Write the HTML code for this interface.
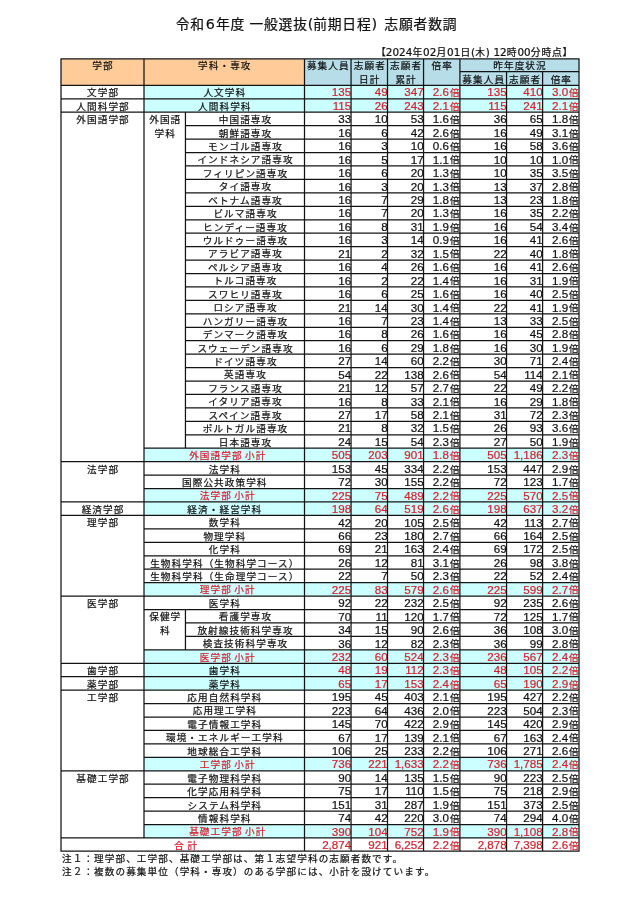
<!DOCTYPE html>
<html lang="ja"><head><meta charset="utf-8"><title>令和6年度 一般選抜(前期日程) 志願者数調</title>
<style>
html,body{margin:0;padding:0;background:#fff;}
body{width:640px;height:905px;position:relative;overflow:hidden;font-family:"Liberation Sans","Noto Sans CJK JP",sans-serif;color:#111;-webkit-text-stroke:0.22px currentColor;}
#pg{position:absolute;left:0;top:0;width:640px;height:905px;will-change:transform;}
.g{position:absolute;}
.c{position:absolute;box-sizing:border-box;white-space:nowrap;overflow:visible;font-size:9.6px;letter-spacing:1.1px;line-height:13.44px;height:13.44px;}
.t{text-align:center;padding-left:1.1px;}
.sp{padding-left:7px;}
.sp u{text-decoration:none;letter-spacing:-0.3px;}
.n{text-align:right;letter-spacing:0;}
.n span{font-size:11.6px;line-height:0;}
.r{color:#D81E2C;}
.ln{position:absolute;left:0;top:0;pointer-events:none;}
.title{position:absolute;left:175.7px;top:14px;font-size:13.8px;letter-spacing:0.8px;line-height:22px;white-space:nowrap;}
.title b{font-weight:normal;display:inline-block;text-align:center;font-family:'DejaVu Sans',sans-serif;font-size:14.3px;letter-spacing:0;line-height:0;}
.ts{position:absolute;left:376px;top:46.2px;font-size:9.8px;letter-spacing:0.78px;line-height:13px;white-space:nowrap;}
.ts b{font-weight:normal;font-family:'DejaVu Sans',sans-serif;font-size:10.4px;letter-spacing:0.1px;line-height:0;}
.ts b:first-of-type{margin-left:-0.9px;}
.note{position:absolute;left:62px;font-size:9.6px;letter-spacing:1.1px;line-height:13.4px;white-space:nowrap;}
</style></head><body><div id="pg">
<div class="title">令和<b style="width:11px">6</b>年度<b style="width:4.3px"> </b>一般選抜<b style="width:5.4px">(</b>前期日程<b style="width:3.6px">)</b><b style="width:9.2px"> </b>志願者数調</div>
<div class="ts">【<b>2024</b>年<b>02</b>月<b>01</b>日<b>(</b>木<b>) 12</b>時<b>00</b>分時点】</div>
<div class="g" style="left:61px;top:58.8px;width:243.5px;height:26.55px;background:#FFCC99"></div>
<div class="g" style="left:304.5px;top:58.8px;width:274.5px;height:26.55px;background:#B7DEE8"></div>
<div class="c t" style="left:61px;top:59.03px;width:83px">学部</div>
<div class="c t" style="left:144px;top:59.03px;width:160.5px">学科・専攻</div>
<div class="c t" style="left:304.5px;top:59.03px;width:46.55px">募集人員</div>
<div class="c t" style="left:351.05px;top:59.03px;width:36.45px">志願者</div>
<div class="c t" style="left:351.05px;top:73.03px;width:36.45px">日計</div>
<div class="c t" style="left:387.5px;top:59.03px;width:36.05px">志願者</div>
<div class="c t" style="left:387.5px;top:73.03px;width:36.05px">累計</div>
<div class="c t" style="left:423.55px;top:59.03px;width:36.35px">倍率</div>
<div class="c t" style="left:459.9px;top:59.03px;width:119.1px">昨年度状況</div>
<div class="c t" style="left:459.9px;top:73.03px;width:46.65px">募集人員</div>
<div class="c t" style="left:506.55px;top:73.03px;width:36.05px">志願者</div>
<div class="c t" style="left:542.6px;top:73.03px;width:36.4px">倍率</div>
<div class="c t" style="left:61px;top:86.03px;width:83px">文学部</div>
<div class="c t" style="left:61px;top:100.03px;width:83px">人間科学部</div>
<div class="c t" style="left:61px;top:113.03px;width:83px">外国語学部</div>
<div class="c t" style="left:61px;top:463.03px;width:83px">法学部</div>
<div class="c t" style="left:61px;top:503.03px;width:83px">経済学部</div>
<div class="c t" style="left:61px;top:516.03px;width:83px">理学部</div>
<div class="c t" style="left:61px;top:597.03px;width:83px">医学部</div>
<div class="c t" style="left:61px;top:664.03px;width:83px">歯学部</div>
<div class="c t" style="left:61px;top:678.03px;width:83px">薬学部</div>
<div class="c t" style="left:61px;top:691.03px;width:83px">工学部</div>
<div class="c t" style="left:61px;top:772.03px;width:83px">基礎工学部</div>
<div class="c t" style="left:144px;top:113.03px;width:41.45px">外国語</div>
<div class="c t" style="left:144px;top:127.03px;width:41.45px">学科</div>
<div class="c t" style="left:144px;top:610.03px;width:41.45px">保健学</div>
<div class="c t" style="left:144px;top:624.03px;width:41.45px">科</div>
<div class="g" style="left:144px;top:85.35px;width:435px;height:13.44px;background:#CCFFFF"></div>
<div class="c t" style="left:144px;top:86.03px;width:160.5px">人文学科</div>
<div class="c n r" style="left:304.5px;top:86.03px;width:46.65px"><span>135</span></div>
<div class="c n r" style="left:351.05px;top:86.03px;width:36.55px"><span>49</span></div>
<div class="c n r" style="left:387.5px;top:86.03px;width:36.15px"><span>347</span></div>
<div class="c n r" style="left:423.55px;top:86.03px;width:25.45px"><span>2.6</span></div>
<div class="c t r" style="left:448.8px;top:86.03px;width:10.7px">倍</div>
<div class="c n r" style="left:459.9px;top:86.03px;width:46.75px"><span>135</span></div>
<div class="c n r" style="left:506.55px;top:86.03px;width:36.15px"><span>410</span></div>
<div class="c n r" style="left:542.6px;top:86.03px;width:25.5px"><span>3.0</span></div>
<div class="c t r" style="left:567.9px;top:86.03px;width:10.7px">倍</div>
<div class="g" style="left:144px;top:98.79px;width:435px;height:13.44px;background:#CCFFFF"></div>
<div class="c t" style="left:144px;top:100.03px;width:160.5px">人間科学科</div>
<div class="c n r" style="left:304.5px;top:100.03px;width:46.65px"><span>115</span></div>
<div class="c n r" style="left:351.05px;top:100.03px;width:36.55px"><span>26</span></div>
<div class="c n r" style="left:387.5px;top:100.03px;width:36.15px"><span>243</span></div>
<div class="c n r" style="left:423.55px;top:100.03px;width:25.45px"><span>2.1</span></div>
<div class="c t r" style="left:448.8px;top:100.03px;width:10.7px">倍</div>
<div class="c n r" style="left:459.9px;top:100.03px;width:46.75px"><span>115</span></div>
<div class="c n r" style="left:506.55px;top:100.03px;width:36.15px"><span>241</span></div>
<div class="c n r" style="left:542.6px;top:100.03px;width:25.5px"><span>2.1</span></div>
<div class="c t r" style="left:567.9px;top:100.03px;width:10.7px">倍</div>
<div class="c t" style="left:185.45px;top:113.03px;width:119.05px">中国語専攻</div>
<div class="c n" style="left:304.5px;top:113.03px;width:46.65px"><span>33</span></div>
<div class="c n" style="left:351.05px;top:113.03px;width:36.55px"><span>10</span></div>
<div class="c n" style="left:387.5px;top:113.03px;width:36.15px"><span>53</span></div>
<div class="c n" style="left:423.55px;top:113.03px;width:25.45px"><span>1.6</span></div>
<div class="c t" style="left:448.8px;top:113.03px;width:10.7px">倍</div>
<div class="c n" style="left:459.9px;top:113.03px;width:46.75px"><span>36</span></div>
<div class="c n" style="left:506.55px;top:113.03px;width:36.15px"><span>65</span></div>
<div class="c n" style="left:542.6px;top:113.03px;width:25.5px"><span>1.8</span></div>
<div class="c t" style="left:567.9px;top:113.03px;width:10.7px">倍</div>
<div class="c t" style="left:185.45px;top:127.03px;width:119.05px">朝鮮語専攻</div>
<div class="c n" style="left:304.5px;top:127.03px;width:46.65px"><span>16</span></div>
<div class="c n" style="left:351.05px;top:127.03px;width:36.55px"><span>6</span></div>
<div class="c n" style="left:387.5px;top:127.03px;width:36.15px"><span>42</span></div>
<div class="c n" style="left:423.55px;top:127.03px;width:25.45px"><span>2.6</span></div>
<div class="c t" style="left:448.8px;top:127.03px;width:10.7px">倍</div>
<div class="c n" style="left:459.9px;top:127.03px;width:46.75px"><span>16</span></div>
<div class="c n" style="left:506.55px;top:127.03px;width:36.15px"><span>49</span></div>
<div class="c n" style="left:542.6px;top:127.03px;width:25.5px"><span>3.1</span></div>
<div class="c t" style="left:567.9px;top:127.03px;width:10.7px">倍</div>
<div class="c t" style="left:185.45px;top:140.03px;width:119.05px">モンゴル語専攻</div>
<div class="c n" style="left:304.5px;top:140.03px;width:46.65px"><span>16</span></div>
<div class="c n" style="left:351.05px;top:140.03px;width:36.55px"><span>3</span></div>
<div class="c n" style="left:387.5px;top:140.03px;width:36.15px"><span>10</span></div>
<div class="c n" style="left:423.55px;top:140.03px;width:25.45px"><span>0.6</span></div>
<div class="c t" style="left:448.8px;top:140.03px;width:10.7px">倍</div>
<div class="c n" style="left:459.9px;top:140.03px;width:46.75px"><span>16</span></div>
<div class="c n" style="left:506.55px;top:140.03px;width:36.15px"><span>58</span></div>
<div class="c n" style="left:542.6px;top:140.03px;width:25.5px"><span>3.6</span></div>
<div class="c t" style="left:567.9px;top:140.03px;width:10.7px">倍</div>
<div class="c t" style="left:185.45px;top:153.03px;width:119.05px">インドネシア語専攻</div>
<div class="c n" style="left:304.5px;top:154.03px;width:46.65px"><span>16</span></div>
<div class="c n" style="left:351.05px;top:154.03px;width:36.55px"><span>5</span></div>
<div class="c n" style="left:387.5px;top:154.03px;width:36.15px"><span>17</span></div>
<div class="c n" style="left:423.55px;top:154.03px;width:25.45px"><span>1.1</span></div>
<div class="c t" style="left:448.8px;top:153.03px;width:10.7px">倍</div>
<div class="c n" style="left:459.9px;top:154.03px;width:46.75px"><span>10</span></div>
<div class="c n" style="left:506.55px;top:154.03px;width:36.15px"><span>10</span></div>
<div class="c n" style="left:542.6px;top:154.03px;width:25.5px"><span>1.0</span></div>
<div class="c t" style="left:567.9px;top:153.03px;width:10.7px">倍</div>
<div class="c t" style="left:185.45px;top:167.03px;width:119.05px">フィリピン語専攻</div>
<div class="c n" style="left:304.5px;top:167.03px;width:46.65px"><span>16</span></div>
<div class="c n" style="left:351.05px;top:167.03px;width:36.55px"><span>6</span></div>
<div class="c n" style="left:387.5px;top:167.03px;width:36.15px"><span>20</span></div>
<div class="c n" style="left:423.55px;top:167.03px;width:25.45px"><span>1.3</span></div>
<div class="c t" style="left:448.8px;top:167.03px;width:10.7px">倍</div>
<div class="c n" style="left:459.9px;top:167.03px;width:46.75px"><span>10</span></div>
<div class="c n" style="left:506.55px;top:167.03px;width:36.15px"><span>35</span></div>
<div class="c n" style="left:542.6px;top:167.03px;width:25.5px"><span>3.5</span></div>
<div class="c t" style="left:567.9px;top:167.03px;width:10.7px">倍</div>
<div class="c t" style="left:185.45px;top:180.03px;width:119.05px">タイ語専攻</div>
<div class="c n" style="left:304.5px;top:181.03px;width:46.65px"><span>16</span></div>
<div class="c n" style="left:351.05px;top:181.03px;width:36.55px"><span>3</span></div>
<div class="c n" style="left:387.5px;top:181.03px;width:36.15px"><span>20</span></div>
<div class="c n" style="left:423.55px;top:181.03px;width:25.45px"><span>1.3</span></div>
<div class="c t" style="left:448.8px;top:180.03px;width:10.7px">倍</div>
<div class="c n" style="left:459.9px;top:181.03px;width:46.75px"><span>13</span></div>
<div class="c n" style="left:506.55px;top:181.03px;width:36.15px"><span>37</span></div>
<div class="c n" style="left:542.6px;top:181.03px;width:25.5px"><span>2.8</span></div>
<div class="c t" style="left:567.9px;top:180.03px;width:10.7px">倍</div>
<div class="c t" style="left:185.45px;top:194.03px;width:119.05px">ベトナム語専攻</div>
<div class="c n" style="left:304.5px;top:194.03px;width:46.65px"><span>16</span></div>
<div class="c n" style="left:351.05px;top:194.03px;width:36.55px"><span>7</span></div>
<div class="c n" style="left:387.5px;top:194.03px;width:36.15px"><span>29</span></div>
<div class="c n" style="left:423.55px;top:194.03px;width:25.45px"><span>1.8</span></div>
<div class="c t" style="left:448.8px;top:194.03px;width:10.7px">倍</div>
<div class="c n" style="left:459.9px;top:194.03px;width:46.75px"><span>13</span></div>
<div class="c n" style="left:506.55px;top:194.03px;width:36.15px"><span>23</span></div>
<div class="c n" style="left:542.6px;top:194.03px;width:25.5px"><span>1.8</span></div>
<div class="c t" style="left:567.9px;top:194.03px;width:10.7px">倍</div>
<div class="c t" style="left:185.45px;top:207.03px;width:119.05px">ビルマ語専攻</div>
<div class="c n" style="left:304.5px;top:207.03px;width:46.65px"><span>16</span></div>
<div class="c n" style="left:351.05px;top:207.03px;width:36.55px"><span>7</span></div>
<div class="c n" style="left:387.5px;top:207.03px;width:36.15px"><span>20</span></div>
<div class="c n" style="left:423.55px;top:207.03px;width:25.45px"><span>1.3</span></div>
<div class="c t" style="left:448.8px;top:207.03px;width:10.7px">倍</div>
<div class="c n" style="left:459.9px;top:207.03px;width:46.75px"><span>16</span></div>
<div class="c n" style="left:506.55px;top:207.03px;width:36.15px"><span>35</span></div>
<div class="c n" style="left:542.6px;top:207.03px;width:25.5px"><span>2.2</span></div>
<div class="c t" style="left:567.9px;top:207.03px;width:10.7px">倍</div>
<div class="c t" style="left:185.45px;top:221.03px;width:119.05px">ヒンディー語専攻</div>
<div class="c n" style="left:304.5px;top:221.03px;width:46.65px"><span>16</span></div>
<div class="c n" style="left:351.05px;top:221.03px;width:36.55px"><span>8</span></div>
<div class="c n" style="left:387.5px;top:221.03px;width:36.15px"><span>31</span></div>
<div class="c n" style="left:423.55px;top:221.03px;width:25.45px"><span>1.9</span></div>
<div class="c t" style="left:448.8px;top:221.03px;width:10.7px">倍</div>
<div class="c n" style="left:459.9px;top:221.03px;width:46.75px"><span>16</span></div>
<div class="c n" style="left:506.55px;top:221.03px;width:36.15px"><span>54</span></div>
<div class="c n" style="left:542.6px;top:221.03px;width:25.5px"><span>3.4</span></div>
<div class="c t" style="left:567.9px;top:221.03px;width:10.7px">倍</div>
<div class="c t" style="left:185.45px;top:234.03px;width:119.05px">ウルドゥー語専攻</div>
<div class="c n" style="left:304.5px;top:234.03px;width:46.65px"><span>16</span></div>
<div class="c n" style="left:351.05px;top:234.03px;width:36.55px"><span>3</span></div>
<div class="c n" style="left:387.5px;top:234.03px;width:36.15px"><span>14</span></div>
<div class="c n" style="left:423.55px;top:234.03px;width:25.45px"><span>0.9</span></div>
<div class="c t" style="left:448.8px;top:234.03px;width:10.7px">倍</div>
<div class="c n" style="left:459.9px;top:234.03px;width:46.75px"><span>16</span></div>
<div class="c n" style="left:506.55px;top:234.03px;width:36.15px"><span>41</span></div>
<div class="c n" style="left:542.6px;top:234.03px;width:25.5px"><span>2.6</span></div>
<div class="c t" style="left:567.9px;top:234.03px;width:10.7px">倍</div>
<div class="c t" style="left:185.45px;top:247.03px;width:119.05px">アラビア語専攻</div>
<div class="c n" style="left:304.5px;top:248.03px;width:46.65px"><span>21</span></div>
<div class="c n" style="left:351.05px;top:248.03px;width:36.55px"><span>2</span></div>
<div class="c n" style="left:387.5px;top:248.03px;width:36.15px"><span>32</span></div>
<div class="c n" style="left:423.55px;top:248.03px;width:25.45px"><span>1.5</span></div>
<div class="c t" style="left:448.8px;top:247.03px;width:10.7px">倍</div>
<div class="c n" style="left:459.9px;top:248.03px;width:46.75px"><span>22</span></div>
<div class="c n" style="left:506.55px;top:248.03px;width:36.15px"><span>40</span></div>
<div class="c n" style="left:542.6px;top:248.03px;width:25.5px"><span>1.8</span></div>
<div class="c t" style="left:567.9px;top:247.03px;width:10.7px">倍</div>
<div class="c t" style="left:185.45px;top:261.03px;width:119.05px">ペルシア語専攻</div>
<div class="c n" style="left:304.5px;top:261.03px;width:46.65px"><span>16</span></div>
<div class="c n" style="left:351.05px;top:261.03px;width:36.55px"><span>4</span></div>
<div class="c n" style="left:387.5px;top:261.03px;width:36.15px"><span>26</span></div>
<div class="c n" style="left:423.55px;top:261.03px;width:25.45px"><span>1.6</span></div>
<div class="c t" style="left:448.8px;top:261.03px;width:10.7px">倍</div>
<div class="c n" style="left:459.9px;top:261.03px;width:46.75px"><span>16</span></div>
<div class="c n" style="left:506.55px;top:261.03px;width:36.15px"><span>41</span></div>
<div class="c n" style="left:542.6px;top:261.03px;width:25.5px"><span>2.6</span></div>
<div class="c t" style="left:567.9px;top:261.03px;width:10.7px">倍</div>
<div class="c t" style="left:185.45px;top:274.03px;width:119.05px">トルコ語専攻</div>
<div class="c n" style="left:304.5px;top:275.03px;width:46.65px"><span>16</span></div>
<div class="c n" style="left:351.05px;top:275.03px;width:36.55px"><span>2</span></div>
<div class="c n" style="left:387.5px;top:275.03px;width:36.15px"><span>22</span></div>
<div class="c n" style="left:423.55px;top:275.03px;width:25.45px"><span>1.4</span></div>
<div class="c t" style="left:448.8px;top:274.03px;width:10.7px">倍</div>
<div class="c n" style="left:459.9px;top:275.03px;width:46.75px"><span>16</span></div>
<div class="c n" style="left:506.55px;top:275.03px;width:36.15px"><span>31</span></div>
<div class="c n" style="left:542.6px;top:275.03px;width:25.5px"><span>1.9</span></div>
<div class="c t" style="left:567.9px;top:274.03px;width:10.7px">倍</div>
<div class="c t" style="left:185.45px;top:288.03px;width:119.05px">スワヒリ語専攻</div>
<div class="c n" style="left:304.5px;top:288.03px;width:46.65px"><span>16</span></div>
<div class="c n" style="left:351.05px;top:288.03px;width:36.55px"><span>6</span></div>
<div class="c n" style="left:387.5px;top:288.03px;width:36.15px"><span>25</span></div>
<div class="c n" style="left:423.55px;top:288.03px;width:25.45px"><span>1.6</span></div>
<div class="c t" style="left:448.8px;top:288.03px;width:10.7px">倍</div>
<div class="c n" style="left:459.9px;top:288.03px;width:46.75px"><span>16</span></div>
<div class="c n" style="left:506.55px;top:288.03px;width:36.15px"><span>40</span></div>
<div class="c n" style="left:542.6px;top:288.03px;width:25.5px"><span>2.5</span></div>
<div class="c t" style="left:567.9px;top:288.03px;width:10.7px">倍</div>
<div class="c t" style="left:185.45px;top:301.03px;width:119.05px">ロシア語専攻</div>
<div class="c n" style="left:304.5px;top:302.03px;width:46.65px"><span>21</span></div>
<div class="c n" style="left:351.05px;top:302.03px;width:36.55px"><span>14</span></div>
<div class="c n" style="left:387.5px;top:302.03px;width:36.15px"><span>30</span></div>
<div class="c n" style="left:423.55px;top:302.03px;width:25.45px"><span>1.4</span></div>
<div class="c t" style="left:448.8px;top:301.03px;width:10.7px">倍</div>
<div class="c n" style="left:459.9px;top:302.03px;width:46.75px"><span>22</span></div>
<div class="c n" style="left:506.55px;top:302.03px;width:36.15px"><span>41</span></div>
<div class="c n" style="left:542.6px;top:302.03px;width:25.5px"><span>1.9</span></div>
<div class="c t" style="left:567.9px;top:301.03px;width:10.7px">倍</div>
<div class="c t" style="left:185.45px;top:315.03px;width:119.05px">ハンガリー語専攻</div>
<div class="c n" style="left:304.5px;top:315.03px;width:46.65px"><span>16</span></div>
<div class="c n" style="left:351.05px;top:315.03px;width:36.55px"><span>7</span></div>
<div class="c n" style="left:387.5px;top:315.03px;width:36.15px"><span>23</span></div>
<div class="c n" style="left:423.55px;top:315.03px;width:25.45px"><span>1.4</span></div>
<div class="c t" style="left:448.8px;top:315.03px;width:10.7px">倍</div>
<div class="c n" style="left:459.9px;top:315.03px;width:46.75px"><span>13</span></div>
<div class="c n" style="left:506.55px;top:315.03px;width:36.15px"><span>33</span></div>
<div class="c n" style="left:542.6px;top:315.03px;width:25.5px"><span>2.5</span></div>
<div class="c t" style="left:567.9px;top:315.03px;width:10.7px">倍</div>
<div class="c t" style="left:185.45px;top:328.03px;width:119.05px">デンマーク語専攻</div>
<div class="c n" style="left:304.5px;top:328.03px;width:46.65px"><span>16</span></div>
<div class="c n" style="left:351.05px;top:328.03px;width:36.55px"><span>8</span></div>
<div class="c n" style="left:387.5px;top:328.03px;width:36.15px"><span>26</span></div>
<div class="c n" style="left:423.55px;top:328.03px;width:25.45px"><span>1.6</span></div>
<div class="c t" style="left:448.8px;top:328.03px;width:10.7px">倍</div>
<div class="c n" style="left:459.9px;top:328.03px;width:46.75px"><span>16</span></div>
<div class="c n" style="left:506.55px;top:328.03px;width:36.15px"><span>45</span></div>
<div class="c n" style="left:542.6px;top:328.03px;width:25.5px"><span>2.8</span></div>
<div class="c t" style="left:567.9px;top:328.03px;width:10.7px">倍</div>
<div class="c t" style="left:185.45px;top:342.03px;width:119.05px">スウェーデン語専攻</div>
<div class="c n" style="left:304.5px;top:342.03px;width:46.65px"><span>16</span></div>
<div class="c n" style="left:351.05px;top:342.03px;width:36.55px"><span>6</span></div>
<div class="c n" style="left:387.5px;top:342.03px;width:36.15px"><span>29</span></div>
<div class="c n" style="left:423.55px;top:342.03px;width:25.45px"><span>1.8</span></div>
<div class="c t" style="left:448.8px;top:342.03px;width:10.7px">倍</div>
<div class="c n" style="left:459.9px;top:342.03px;width:46.75px"><span>16</span></div>
<div class="c n" style="left:506.55px;top:342.03px;width:36.15px"><span>30</span></div>
<div class="c n" style="left:542.6px;top:342.03px;width:25.5px"><span>1.9</span></div>
<div class="c t" style="left:567.9px;top:342.03px;width:10.7px">倍</div>
<div class="c t" style="left:185.45px;top:355.03px;width:119.05px">ドイツ語専攻</div>
<div class="c n" style="left:304.5px;top:355.03px;width:46.65px"><span>27</span></div>
<div class="c n" style="left:351.05px;top:355.03px;width:36.55px"><span>14</span></div>
<div class="c n" style="left:387.5px;top:355.03px;width:36.15px"><span>60</span></div>
<div class="c n" style="left:423.55px;top:355.03px;width:25.45px"><span>2.2</span></div>
<div class="c t" style="left:448.8px;top:355.03px;width:10.7px">倍</div>
<div class="c n" style="left:459.9px;top:355.03px;width:46.75px"><span>30</span></div>
<div class="c n" style="left:506.55px;top:355.03px;width:36.15px"><span>71</span></div>
<div class="c n" style="left:542.6px;top:355.03px;width:25.5px"><span>2.4</span></div>
<div class="c t" style="left:567.9px;top:355.03px;width:10.7px">倍</div>
<div class="c t" style="left:185.45px;top:368.03px;width:119.05px">英語専攻</div>
<div class="c n" style="left:304.5px;top:369.03px;width:46.65px"><span>54</span></div>
<div class="c n" style="left:351.05px;top:369.03px;width:36.55px"><span>22</span></div>
<div class="c n" style="left:387.5px;top:369.03px;width:36.15px"><span>138</span></div>
<div class="c n" style="left:423.55px;top:369.03px;width:25.45px"><span>2.6</span></div>
<div class="c t" style="left:448.8px;top:368.03px;width:10.7px">倍</div>
<div class="c n" style="left:459.9px;top:369.03px;width:46.75px"><span>54</span></div>
<div class="c n" style="left:506.55px;top:369.03px;width:36.15px"><span>114</span></div>
<div class="c n" style="left:542.6px;top:369.03px;width:25.5px"><span>2.1</span></div>
<div class="c t" style="left:567.9px;top:368.03px;width:10.7px">倍</div>
<div class="c t" style="left:185.45px;top:382.03px;width:119.05px">フランス語専攻</div>
<div class="c n" style="left:304.5px;top:382.03px;width:46.65px"><span>21</span></div>
<div class="c n" style="left:351.05px;top:382.03px;width:36.55px"><span>12</span></div>
<div class="c n" style="left:387.5px;top:382.03px;width:36.15px"><span>57</span></div>
<div class="c n" style="left:423.55px;top:382.03px;width:25.45px"><span>2.7</span></div>
<div class="c t" style="left:448.8px;top:382.03px;width:10.7px">倍</div>
<div class="c n" style="left:459.9px;top:382.03px;width:46.75px"><span>22</span></div>
<div class="c n" style="left:506.55px;top:382.03px;width:36.15px"><span>49</span></div>
<div class="c n" style="left:542.6px;top:382.03px;width:25.5px"><span>2.2</span></div>
<div class="c t" style="left:567.9px;top:382.03px;width:10.7px">倍</div>
<div class="c t" style="left:185.45px;top:395.03px;width:119.05px">イタリア語専攻</div>
<div class="c n" style="left:304.5px;top:396.03px;width:46.65px"><span>16</span></div>
<div class="c n" style="left:351.05px;top:396.03px;width:36.55px"><span>8</span></div>
<div class="c n" style="left:387.5px;top:396.03px;width:36.15px"><span>33</span></div>
<div class="c n" style="left:423.55px;top:396.03px;width:25.45px"><span>2.1</span></div>
<div class="c t" style="left:448.8px;top:395.03px;width:10.7px">倍</div>
<div class="c n" style="left:459.9px;top:396.03px;width:46.75px"><span>16</span></div>
<div class="c n" style="left:506.55px;top:396.03px;width:36.15px"><span>29</span></div>
<div class="c n" style="left:542.6px;top:396.03px;width:25.5px"><span>1.8</span></div>
<div class="c t" style="left:567.9px;top:395.03px;width:10.7px">倍</div>
<div class="c t" style="left:185.45px;top:409.03px;width:119.05px">スペイン語専攻</div>
<div class="c n" style="left:304.5px;top:409.03px;width:46.65px"><span>27</span></div>
<div class="c n" style="left:351.05px;top:409.03px;width:36.55px"><span>17</span></div>
<div class="c n" style="left:387.5px;top:409.03px;width:36.15px"><span>58</span></div>
<div class="c n" style="left:423.55px;top:409.03px;width:25.45px"><span>2.1</span></div>
<div class="c t" style="left:448.8px;top:409.03px;width:10.7px">倍</div>
<div class="c n" style="left:459.9px;top:409.03px;width:46.75px"><span>31</span></div>
<div class="c n" style="left:506.55px;top:409.03px;width:36.15px"><span>72</span></div>
<div class="c n" style="left:542.6px;top:409.03px;width:25.5px"><span>2.3</span></div>
<div class="c t" style="left:567.9px;top:409.03px;width:10.7px">倍</div>
<div class="c t" style="left:185.45px;top:422.03px;width:119.05px">ポルトガル語専攻</div>
<div class="c n" style="left:304.5px;top:422.03px;width:46.65px"><span>21</span></div>
<div class="c n" style="left:351.05px;top:422.03px;width:36.55px"><span>8</span></div>
<div class="c n" style="left:387.5px;top:422.03px;width:36.15px"><span>32</span></div>
<div class="c n" style="left:423.55px;top:422.03px;width:25.45px"><span>1.5</span></div>
<div class="c t" style="left:448.8px;top:422.03px;width:10.7px">倍</div>
<div class="c n" style="left:459.9px;top:422.03px;width:46.75px"><span>26</span></div>
<div class="c n" style="left:506.55px;top:422.03px;width:36.15px"><span>93</span></div>
<div class="c n" style="left:542.6px;top:422.03px;width:25.5px"><span>3.6</span></div>
<div class="c t" style="left:567.9px;top:422.03px;width:10.7px">倍</div>
<div class="c t" style="left:185.45px;top:436.03px;width:119.05px">日本語専攻</div>
<div class="c n" style="left:304.5px;top:436.03px;width:46.65px"><span>24</span></div>
<div class="c n" style="left:351.05px;top:436.03px;width:36.55px"><span>15</span></div>
<div class="c n" style="left:387.5px;top:436.03px;width:36.15px"><span>54</span></div>
<div class="c n" style="left:423.55px;top:436.03px;width:25.45px"><span>2.3</span></div>
<div class="c t" style="left:448.8px;top:436.03px;width:10.7px">倍</div>
<div class="c n" style="left:459.9px;top:436.03px;width:46.75px"><span>27</span></div>
<div class="c n" style="left:506.55px;top:436.03px;width:36.15px"><span>50</span></div>
<div class="c n" style="left:542.6px;top:436.03px;width:25.5px"><span>1.9</span></div>
<div class="c t" style="left:567.9px;top:436.03px;width:10.7px">倍</div>
<div class="g" style="left:144px;top:448.23px;width:435px;height:13.44px;background:#CCFFFF"></div>
<div class="c t r sp" style="left:144px;top:449.03px;width:160.5px">外国語学部<u> </u>小計</div>
<div class="c n r" style="left:304.5px;top:449.03px;width:46.65px"><span>505</span></div>
<div class="c n r" style="left:351.05px;top:449.03px;width:36.55px"><span>203</span></div>
<div class="c n r" style="left:387.5px;top:449.03px;width:36.15px"><span>901</span></div>
<div class="c n r" style="left:423.55px;top:449.03px;width:25.45px"><span>1.8</span></div>
<div class="c t r" style="left:448.8px;top:449.03px;width:10.7px">倍</div>
<div class="c n r" style="left:459.9px;top:449.03px;width:46.75px"><span>505</span></div>
<div class="c n r" style="left:506.55px;top:449.03px;width:36.15px"><span>1,186</span></div>
<div class="c n r" style="left:542.6px;top:449.03px;width:25.5px"><span>2.3</span></div>
<div class="c t r" style="left:567.9px;top:449.03px;width:10.7px">倍</div>
<div class="c t" style="left:144px;top:463.03px;width:160.5px">法学科</div>
<div class="c n" style="left:304.5px;top:463.03px;width:46.65px"><span>153</span></div>
<div class="c n" style="left:351.05px;top:463.03px;width:36.55px"><span>45</span></div>
<div class="c n" style="left:387.5px;top:463.03px;width:36.15px"><span>334</span></div>
<div class="c n" style="left:423.55px;top:463.03px;width:25.45px"><span>2.2</span></div>
<div class="c t" style="left:448.8px;top:463.03px;width:10.7px">倍</div>
<div class="c n" style="left:459.9px;top:463.03px;width:46.75px"><span>153</span></div>
<div class="c n" style="left:506.55px;top:463.03px;width:36.15px"><span>447</span></div>
<div class="c n" style="left:542.6px;top:463.03px;width:25.5px"><span>2.9</span></div>
<div class="c t" style="left:567.9px;top:463.03px;width:10.7px">倍</div>
<div class="c t" style="left:144px;top:476.03px;width:160.5px">国際公共政策学科</div>
<div class="c n" style="left:304.5px;top:476.03px;width:46.65px"><span>72</span></div>
<div class="c n" style="left:351.05px;top:476.03px;width:36.55px"><span>30</span></div>
<div class="c n" style="left:387.5px;top:476.03px;width:36.15px"><span>155</span></div>
<div class="c n" style="left:423.55px;top:476.03px;width:25.45px"><span>2.2</span></div>
<div class="c t" style="left:448.8px;top:476.03px;width:10.7px">倍</div>
<div class="c n" style="left:459.9px;top:476.03px;width:46.75px"><span>72</span></div>
<div class="c n" style="left:506.55px;top:476.03px;width:36.15px"><span>123</span></div>
<div class="c n" style="left:542.6px;top:476.03px;width:25.5px"><span>1.7</span></div>
<div class="c t" style="left:567.9px;top:476.03px;width:10.7px">倍</div>
<div class="g" style="left:144px;top:488.55px;width:435px;height:13.44px;background:#CCFFFF"></div>
<div class="c t r sp" style="left:144px;top:489.03px;width:160.5px">法学部<u> </u>小計</div>
<div class="c n r" style="left:304.5px;top:490.03px;width:46.65px"><span>225</span></div>
<div class="c n r" style="left:351.05px;top:490.03px;width:36.55px"><span>75</span></div>
<div class="c n r" style="left:387.5px;top:490.03px;width:36.15px"><span>489</span></div>
<div class="c n r" style="left:423.55px;top:490.03px;width:25.45px"><span>2.2</span></div>
<div class="c t r" style="left:448.8px;top:489.03px;width:10.7px">倍</div>
<div class="c n r" style="left:459.9px;top:490.03px;width:46.75px"><span>225</span></div>
<div class="c n r" style="left:506.55px;top:490.03px;width:36.15px"><span>570</span></div>
<div class="c n r" style="left:542.6px;top:490.03px;width:25.5px"><span>2.5</span></div>
<div class="c t r" style="left:567.9px;top:489.03px;width:10.7px">倍</div>
<div class="g" style="left:144px;top:501.99px;width:435px;height:13.44px;background:#CCFFFF"></div>
<div class="c t" style="left:144px;top:503.03px;width:160.5px">経済・経営学科</div>
<div class="c n r" style="left:304.5px;top:503.03px;width:46.65px"><span>198</span></div>
<div class="c n r" style="left:351.05px;top:503.03px;width:36.55px"><span>64</span></div>
<div class="c n r" style="left:387.5px;top:503.03px;width:36.15px"><span>519</span></div>
<div class="c n r" style="left:423.55px;top:503.03px;width:25.45px"><span>2.6</span></div>
<div class="c t r" style="left:448.8px;top:503.03px;width:10.7px">倍</div>
<div class="c n r" style="left:459.9px;top:503.03px;width:46.75px"><span>198</span></div>
<div class="c n r" style="left:506.55px;top:503.03px;width:36.15px"><span>637</span></div>
<div class="c n r" style="left:542.6px;top:503.03px;width:25.5px"><span>3.2</span></div>
<div class="c t r" style="left:567.9px;top:503.03px;width:10.7px">倍</div>
<div class="c t" style="left:144px;top:516.03px;width:160.5px">数学科</div>
<div class="c n" style="left:304.5px;top:517.03px;width:46.65px"><span>42</span></div>
<div class="c n" style="left:351.05px;top:517.03px;width:36.55px"><span>20</span></div>
<div class="c n" style="left:387.5px;top:517.03px;width:36.15px"><span>105</span></div>
<div class="c n" style="left:423.55px;top:517.03px;width:25.45px"><span>2.5</span></div>
<div class="c t" style="left:448.8px;top:516.03px;width:10.7px">倍</div>
<div class="c n" style="left:459.9px;top:517.03px;width:46.75px"><span>42</span></div>
<div class="c n" style="left:506.55px;top:517.03px;width:36.15px"><span>113</span></div>
<div class="c n" style="left:542.6px;top:517.03px;width:25.5px"><span>2.7</span></div>
<div class="c t" style="left:567.9px;top:516.03px;width:10.7px">倍</div>
<div class="c t" style="left:144px;top:530.03px;width:160.5px">物理学科</div>
<div class="c n" style="left:304.5px;top:530.03px;width:46.65px"><span>66</span></div>
<div class="c n" style="left:351.05px;top:530.03px;width:36.55px"><span>23</span></div>
<div class="c n" style="left:387.5px;top:530.03px;width:36.15px"><span>180</span></div>
<div class="c n" style="left:423.55px;top:530.03px;width:25.45px"><span>2.7</span></div>
<div class="c t" style="left:448.8px;top:530.03px;width:10.7px">倍</div>
<div class="c n" style="left:459.9px;top:530.03px;width:46.75px"><span>66</span></div>
<div class="c n" style="left:506.55px;top:530.03px;width:36.15px"><span>164</span></div>
<div class="c n" style="left:542.6px;top:530.03px;width:25.5px"><span>2.5</span></div>
<div class="c t" style="left:567.9px;top:530.03px;width:10.7px">倍</div>
<div class="c t" style="left:144px;top:543.03px;width:160.5px">化学科</div>
<div class="c n" style="left:304.5px;top:543.03px;width:46.65px"><span>69</span></div>
<div class="c n" style="left:351.05px;top:543.03px;width:36.55px"><span>21</span></div>
<div class="c n" style="left:387.5px;top:543.03px;width:36.15px"><span>163</span></div>
<div class="c n" style="left:423.55px;top:543.03px;width:25.45px"><span>2.4</span></div>
<div class="c t" style="left:448.8px;top:543.03px;width:10.7px">倍</div>
<div class="c n" style="left:459.9px;top:543.03px;width:46.75px"><span>69</span></div>
<div class="c n" style="left:506.55px;top:543.03px;width:36.15px"><span>172</span></div>
<div class="c n" style="left:542.6px;top:543.03px;width:25.5px"><span>2.5</span></div>
<div class="c t" style="left:567.9px;top:543.03px;width:10.7px">倍</div>
<div class="c t" style="left:144px;top:557.03px;width:160.5px">生物科学科（生物科学コース）</div>
<div class="c n" style="left:304.5px;top:557.03px;width:46.65px"><span>26</span></div>
<div class="c n" style="left:351.05px;top:557.03px;width:36.55px"><span>12</span></div>
<div class="c n" style="left:387.5px;top:557.03px;width:36.15px"><span>81</span></div>
<div class="c n" style="left:423.55px;top:557.03px;width:25.45px"><span>3.1</span></div>
<div class="c t" style="left:448.8px;top:557.03px;width:10.7px">倍</div>
<div class="c n" style="left:459.9px;top:557.03px;width:46.75px"><span>26</span></div>
<div class="c n" style="left:506.55px;top:557.03px;width:36.15px"><span>98</span></div>
<div class="c n" style="left:542.6px;top:557.03px;width:25.5px"><span>3.8</span></div>
<div class="c t" style="left:567.9px;top:557.03px;width:10.7px">倍</div>
<div class="c t" style="left:144px;top:570.03px;width:160.5px">生物科学科（生命理学コース）</div>
<div class="c n" style="left:304.5px;top:570.03px;width:46.65px"><span>22</span></div>
<div class="c n" style="left:351.05px;top:570.03px;width:36.55px"><span>7</span></div>
<div class="c n" style="left:387.5px;top:570.03px;width:36.15px"><span>50</span></div>
<div class="c n" style="left:423.55px;top:570.03px;width:25.45px"><span>2.3</span></div>
<div class="c t" style="left:448.8px;top:570.03px;width:10.7px">倍</div>
<div class="c n" style="left:459.9px;top:570.03px;width:46.75px"><span>22</span></div>
<div class="c n" style="left:506.55px;top:570.03px;width:36.15px"><span>52</span></div>
<div class="c n" style="left:542.6px;top:570.03px;width:25.5px"><span>2.4</span></div>
<div class="c t" style="left:567.9px;top:570.03px;width:10.7px">倍</div>
<div class="g" style="left:144px;top:582.63px;width:435px;height:13.44px;background:#CCFFFF"></div>
<div class="c t r sp" style="left:144px;top:583.03px;width:160.5px">理学部<u> </u>小計</div>
<div class="c n r" style="left:304.5px;top:584.03px;width:46.65px"><span>225</span></div>
<div class="c n r" style="left:351.05px;top:584.03px;width:36.55px"><span>83</span></div>
<div class="c n r" style="left:387.5px;top:584.03px;width:36.15px"><span>579</span></div>
<div class="c n r" style="left:423.55px;top:584.03px;width:25.45px"><span>2.6</span></div>
<div class="c t r" style="left:448.8px;top:583.03px;width:10.7px">倍</div>
<div class="c n r" style="left:459.9px;top:584.03px;width:46.75px"><span>225</span></div>
<div class="c n r" style="left:506.55px;top:584.03px;width:36.15px"><span>599</span></div>
<div class="c n r" style="left:542.6px;top:584.03px;width:25.5px"><span>2.7</span></div>
<div class="c t r" style="left:567.9px;top:583.03px;width:10.7px">倍</div>
<div class="c t" style="left:144px;top:597.03px;width:160.5px">医学科</div>
<div class="c n" style="left:304.5px;top:597.03px;width:46.65px"><span>92</span></div>
<div class="c n" style="left:351.05px;top:597.03px;width:36.55px"><span>22</span></div>
<div class="c n" style="left:387.5px;top:597.03px;width:36.15px"><span>232</span></div>
<div class="c n" style="left:423.55px;top:597.03px;width:25.45px"><span>2.5</span></div>
<div class="c t" style="left:448.8px;top:597.03px;width:10.7px">倍</div>
<div class="c n" style="left:459.9px;top:597.03px;width:46.75px"><span>92</span></div>
<div class="c n" style="left:506.55px;top:597.03px;width:36.15px"><span>235</span></div>
<div class="c n" style="left:542.6px;top:597.03px;width:25.5px"><span>2.6</span></div>
<div class="c t" style="left:567.9px;top:597.03px;width:10.7px">倍</div>
<div class="c t" style="left:185.45px;top:610.03px;width:119.05px">看護学専攻</div>
<div class="c n" style="left:304.5px;top:611.03px;width:46.65px"><span>70</span></div>
<div class="c n" style="left:351.05px;top:611.03px;width:36.55px"><span>11</span></div>
<div class="c n" style="left:387.5px;top:611.03px;width:36.15px"><span>120</span></div>
<div class="c n" style="left:423.55px;top:611.03px;width:25.45px"><span>1.7</span></div>
<div class="c t" style="left:448.8px;top:610.03px;width:10.7px">倍</div>
<div class="c n" style="left:459.9px;top:611.03px;width:46.75px"><span>72</span></div>
<div class="c n" style="left:506.55px;top:611.03px;width:36.15px"><span>125</span></div>
<div class="c n" style="left:542.6px;top:611.03px;width:25.5px"><span>1.7</span></div>
<div class="c t" style="left:567.9px;top:610.03px;width:10.7px">倍</div>
<div class="c t" style="left:185.45px;top:624.03px;width:119.05px">放射線技術科学専攻</div>
<div class="c n" style="left:304.5px;top:624.03px;width:46.65px"><span>34</span></div>
<div class="c n" style="left:351.05px;top:624.03px;width:36.55px"><span>15</span></div>
<div class="c n" style="left:387.5px;top:624.03px;width:36.15px"><span>90</span></div>
<div class="c n" style="left:423.55px;top:624.03px;width:25.45px"><span>2.6</span></div>
<div class="c t" style="left:448.8px;top:624.03px;width:10.7px">倍</div>
<div class="c n" style="left:459.9px;top:624.03px;width:46.75px"><span>36</span></div>
<div class="c n" style="left:506.55px;top:624.03px;width:36.15px"><span>108</span></div>
<div class="c n" style="left:542.6px;top:624.03px;width:25.5px"><span>3.0</span></div>
<div class="c t" style="left:567.9px;top:624.03px;width:10.7px">倍</div>
<div class="c t" style="left:185.45px;top:637.03px;width:119.05px">検査技術科学専攻</div>
<div class="c n" style="left:304.5px;top:638.03px;width:46.65px"><span>36</span></div>
<div class="c n" style="left:351.05px;top:638.03px;width:36.55px"><span>12</span></div>
<div class="c n" style="left:387.5px;top:638.03px;width:36.15px"><span>82</span></div>
<div class="c n" style="left:423.55px;top:638.03px;width:25.45px"><span>2.3</span></div>
<div class="c t" style="left:448.8px;top:637.03px;width:10.7px">倍</div>
<div class="c n" style="left:459.9px;top:638.03px;width:46.75px"><span>36</span></div>
<div class="c n" style="left:506.55px;top:638.03px;width:36.15px"><span>99</span></div>
<div class="c n" style="left:542.6px;top:638.03px;width:25.5px"><span>2.8</span></div>
<div class="c t" style="left:567.9px;top:637.03px;width:10.7px">倍</div>
<div class="g" style="left:144px;top:649.83px;width:435px;height:13.44px;background:#CCFFFF"></div>
<div class="c t r sp" style="left:144px;top:651.03px;width:160.5px">医学部<u> </u>小計</div>
<div class="c n r" style="left:304.5px;top:651.03px;width:46.65px"><span>232</span></div>
<div class="c n r" style="left:351.05px;top:651.03px;width:36.55px"><span>60</span></div>
<div class="c n r" style="left:387.5px;top:651.03px;width:36.15px"><span>524</span></div>
<div class="c n r" style="left:423.55px;top:651.03px;width:25.45px"><span>2.3</span></div>
<div class="c t r" style="left:448.8px;top:651.03px;width:10.7px">倍</div>
<div class="c n r" style="left:459.9px;top:651.03px;width:46.75px"><span>236</span></div>
<div class="c n r" style="left:506.55px;top:651.03px;width:36.15px"><span>567</span></div>
<div class="c n r" style="left:542.6px;top:651.03px;width:25.5px"><span>2.4</span></div>
<div class="c t r" style="left:567.9px;top:651.03px;width:10.7px">倍</div>
<div class="g" style="left:144px;top:663.27px;width:435px;height:13.44px;background:#CCFFFF"></div>
<div class="c t" style="left:144px;top:664.03px;width:160.5px">歯学科</div>
<div class="c n r" style="left:304.5px;top:664.03px;width:46.65px"><span>48</span></div>
<div class="c n r" style="left:351.05px;top:664.03px;width:36.55px"><span>19</span></div>
<div class="c n r" style="left:387.5px;top:664.03px;width:36.15px"><span>112</span></div>
<div class="c n r" style="left:423.55px;top:664.03px;width:25.45px"><span>2.3</span></div>
<div class="c t r" style="left:448.8px;top:664.03px;width:10.7px">倍</div>
<div class="c n r" style="left:459.9px;top:664.03px;width:46.75px"><span>48</span></div>
<div class="c n r" style="left:506.55px;top:664.03px;width:36.15px"><span>105</span></div>
<div class="c n r" style="left:542.6px;top:664.03px;width:25.5px"><span>2.2</span></div>
<div class="c t r" style="left:567.9px;top:664.03px;width:10.7px">倍</div>
<div class="g" style="left:144px;top:676.71px;width:435px;height:13.44px;background:#CCFFFF"></div>
<div class="c t" style="left:144px;top:678.03px;width:160.5px">薬学科</div>
<div class="c n r" style="left:304.5px;top:678.03px;width:46.65px"><span>65</span></div>
<div class="c n r" style="left:351.05px;top:678.03px;width:36.55px"><span>17</span></div>
<div class="c n r" style="left:387.5px;top:678.03px;width:36.15px"><span>153</span></div>
<div class="c n r" style="left:423.55px;top:678.03px;width:25.45px"><span>2.4</span></div>
<div class="c t r" style="left:448.8px;top:678.03px;width:10.7px">倍</div>
<div class="c n r" style="left:459.9px;top:678.03px;width:46.75px"><span>65</span></div>
<div class="c n r" style="left:506.55px;top:678.03px;width:36.15px"><span>190</span></div>
<div class="c n r" style="left:542.6px;top:678.03px;width:25.5px"><span>2.9</span></div>
<div class="c t r" style="left:567.9px;top:678.03px;width:10.7px">倍</div>
<div class="c t" style="left:144px;top:691.03px;width:160.5px">応用自然科学科</div>
<div class="c n" style="left:304.5px;top:691.03px;width:46.65px"><span>195</span></div>
<div class="c n" style="left:351.05px;top:691.03px;width:36.55px"><span>45</span></div>
<div class="c n" style="left:387.5px;top:691.03px;width:36.15px"><span>403</span></div>
<div class="c n" style="left:423.55px;top:691.03px;width:25.45px"><span>2.1</span></div>
<div class="c t" style="left:448.8px;top:691.03px;width:10.7px">倍</div>
<div class="c n" style="left:459.9px;top:691.03px;width:46.75px"><span>195</span></div>
<div class="c n" style="left:506.55px;top:691.03px;width:36.15px"><span>427</span></div>
<div class="c n" style="left:542.6px;top:691.03px;width:25.5px"><span>2.2</span></div>
<div class="c t" style="left:567.9px;top:691.03px;width:10.7px">倍</div>
<div class="c t" style="left:144px;top:704.03px;width:160.5px">応用理工学科</div>
<div class="c n" style="left:304.5px;top:705.03px;width:46.65px"><span>223</span></div>
<div class="c n" style="left:351.05px;top:705.03px;width:36.55px"><span>64</span></div>
<div class="c n" style="left:387.5px;top:705.03px;width:36.15px"><span>436</span></div>
<div class="c n" style="left:423.55px;top:705.03px;width:25.45px"><span>2.0</span></div>
<div class="c t" style="left:448.8px;top:704.03px;width:10.7px">倍</div>
<div class="c n" style="left:459.9px;top:705.03px;width:46.75px"><span>223</span></div>
<div class="c n" style="left:506.55px;top:705.03px;width:36.15px"><span>504</span></div>
<div class="c n" style="left:542.6px;top:705.03px;width:25.5px"><span>2.3</span></div>
<div class="c t" style="left:567.9px;top:704.03px;width:10.7px">倍</div>
<div class="c t" style="left:144px;top:718.03px;width:160.5px">電子情報工学科</div>
<div class="c n" style="left:304.5px;top:718.03px;width:46.65px"><span>145</span></div>
<div class="c n" style="left:351.05px;top:718.03px;width:36.55px"><span>70</span></div>
<div class="c n" style="left:387.5px;top:718.03px;width:36.15px"><span>422</span></div>
<div class="c n" style="left:423.55px;top:718.03px;width:25.45px"><span>2.9</span></div>
<div class="c t" style="left:448.8px;top:718.03px;width:10.7px">倍</div>
<div class="c n" style="left:459.9px;top:718.03px;width:46.75px"><span>145</span></div>
<div class="c n" style="left:506.55px;top:718.03px;width:36.15px"><span>420</span></div>
<div class="c n" style="left:542.6px;top:718.03px;width:25.5px"><span>2.9</span></div>
<div class="c t" style="left:567.9px;top:718.03px;width:10.7px">倍</div>
<div class="c t" style="left:144px;top:731.03px;width:160.5px">環境・エネルギー工学科</div>
<div class="c n" style="left:304.5px;top:732.03px;width:46.65px"><span>67</span></div>
<div class="c n" style="left:351.05px;top:732.03px;width:36.55px"><span>17</span></div>
<div class="c n" style="left:387.5px;top:732.03px;width:36.15px"><span>139</span></div>
<div class="c n" style="left:423.55px;top:732.03px;width:25.45px"><span>2.1</span></div>
<div class="c t" style="left:448.8px;top:731.03px;width:10.7px">倍</div>
<div class="c n" style="left:459.9px;top:732.03px;width:46.75px"><span>67</span></div>
<div class="c n" style="left:506.55px;top:732.03px;width:36.15px"><span>163</span></div>
<div class="c n" style="left:542.6px;top:732.03px;width:25.5px"><span>2.4</span></div>
<div class="c t" style="left:567.9px;top:731.03px;width:10.7px">倍</div>
<div class="c t" style="left:144px;top:745.03px;width:160.5px">地球総合工学科</div>
<div class="c n" style="left:304.5px;top:745.03px;width:46.65px"><span>106</span></div>
<div class="c n" style="left:351.05px;top:745.03px;width:36.55px"><span>25</span></div>
<div class="c n" style="left:387.5px;top:745.03px;width:36.15px"><span>233</span></div>
<div class="c n" style="left:423.55px;top:745.03px;width:25.45px"><span>2.2</span></div>
<div class="c t" style="left:448.8px;top:745.03px;width:10.7px">倍</div>
<div class="c n" style="left:459.9px;top:745.03px;width:46.75px"><span>106</span></div>
<div class="c n" style="left:506.55px;top:745.03px;width:36.15px"><span>271</span></div>
<div class="c n" style="left:542.6px;top:745.03px;width:25.5px"><span>2.6</span></div>
<div class="c t" style="left:567.9px;top:745.03px;width:10.7px">倍</div>
<div class="g" style="left:144px;top:757.35px;width:435px;height:13.44px;background:#CCFFFF"></div>
<div class="c t r sp" style="left:144px;top:758.03px;width:160.5px">工学部<u> </u>小計</div>
<div class="c n r" style="left:304.5px;top:758.03px;width:46.65px"><span>736</span></div>
<div class="c n r" style="left:351.05px;top:758.03px;width:36.55px"><span>221</span></div>
<div class="c n r" style="left:387.5px;top:758.03px;width:36.15px"><span>1,633</span></div>
<div class="c n r" style="left:423.55px;top:758.03px;width:25.45px"><span>2.2</span></div>
<div class="c t r" style="left:448.8px;top:758.03px;width:10.7px">倍</div>
<div class="c n r" style="left:459.9px;top:758.03px;width:46.75px"><span>736</span></div>
<div class="c n r" style="left:506.55px;top:758.03px;width:36.15px"><span>1,785</span></div>
<div class="c n r" style="left:542.6px;top:758.03px;width:25.5px"><span>2.4</span></div>
<div class="c t r" style="left:567.9px;top:758.03px;width:10.7px">倍</div>
<div class="c t" style="left:144px;top:772.03px;width:160.5px">電子物理科学科</div>
<div class="c n" style="left:304.5px;top:772.03px;width:46.65px"><span>90</span></div>
<div class="c n" style="left:351.05px;top:772.03px;width:36.55px"><span>14</span></div>
<div class="c n" style="left:387.5px;top:772.03px;width:36.15px"><span>135</span></div>
<div class="c n" style="left:423.55px;top:772.03px;width:25.45px"><span>1.5</span></div>
<div class="c t" style="left:448.8px;top:772.03px;width:10.7px">倍</div>
<div class="c n" style="left:459.9px;top:772.03px;width:46.75px"><span>90</span></div>
<div class="c n" style="left:506.55px;top:772.03px;width:36.15px"><span>223</span></div>
<div class="c n" style="left:542.6px;top:772.03px;width:25.5px"><span>2.5</span></div>
<div class="c t" style="left:567.9px;top:772.03px;width:10.7px">倍</div>
<div class="c t" style="left:144px;top:785.03px;width:160.5px">化学応用科学科</div>
<div class="c n" style="left:304.5px;top:785.03px;width:46.65px"><span>75</span></div>
<div class="c n" style="left:351.05px;top:785.03px;width:36.55px"><span>17</span></div>
<div class="c n" style="left:387.5px;top:785.03px;width:36.15px"><span>110</span></div>
<div class="c n" style="left:423.55px;top:785.03px;width:25.45px"><span>1.5</span></div>
<div class="c t" style="left:448.8px;top:785.03px;width:10.7px">倍</div>
<div class="c n" style="left:459.9px;top:785.03px;width:46.75px"><span>75</span></div>
<div class="c n" style="left:506.55px;top:785.03px;width:36.15px"><span>218</span></div>
<div class="c n" style="left:542.6px;top:785.03px;width:25.5px"><span>2.9</span></div>
<div class="c t" style="left:567.9px;top:785.03px;width:10.7px">倍</div>
<div class="c t" style="left:144px;top:799.03px;width:160.5px">システム科学科</div>
<div class="c n" style="left:304.5px;top:799.03px;width:46.65px"><span>151</span></div>
<div class="c n" style="left:351.05px;top:799.03px;width:36.55px"><span>31</span></div>
<div class="c n" style="left:387.5px;top:799.03px;width:36.15px"><span>287</span></div>
<div class="c n" style="left:423.55px;top:799.03px;width:25.45px"><span>1.9</span></div>
<div class="c t" style="left:448.8px;top:799.03px;width:10.7px">倍</div>
<div class="c n" style="left:459.9px;top:799.03px;width:46.75px"><span>151</span></div>
<div class="c n" style="left:506.55px;top:799.03px;width:36.15px"><span>373</span></div>
<div class="c n" style="left:542.6px;top:799.03px;width:25.5px"><span>2.5</span></div>
<div class="c t" style="left:567.9px;top:799.03px;width:10.7px">倍</div>
<div class="c t" style="left:144px;top:812.03px;width:160.5px">情報科学科</div>
<div class="c n" style="left:304.5px;top:812.03px;width:46.65px"><span>74</span></div>
<div class="c n" style="left:351.05px;top:812.03px;width:36.55px"><span>42</span></div>
<div class="c n" style="left:387.5px;top:812.03px;width:36.15px"><span>220</span></div>
<div class="c n" style="left:423.55px;top:812.03px;width:25.45px"><span>3.0</span></div>
<div class="c t" style="left:448.8px;top:812.03px;width:10.7px">倍</div>
<div class="c n" style="left:459.9px;top:812.03px;width:46.75px"><span>74</span></div>
<div class="c n" style="left:506.55px;top:812.03px;width:36.15px"><span>294</span></div>
<div class="c n" style="left:542.6px;top:812.03px;width:25.5px"><span>4.0</span></div>
<div class="c t" style="left:567.9px;top:812.03px;width:10.7px">倍</div>
<div class="g" style="left:144px;top:824.55px;width:435px;height:13.44px;background:#CCFFFF"></div>
<div class="c t r sp" style="left:144px;top:825.03px;width:160.5px">基礎工学部<u> </u>小計</div>
<div class="c n r" style="left:304.5px;top:826.03px;width:46.65px"><span>390</span></div>
<div class="c n r" style="left:351.05px;top:826.03px;width:36.55px"><span>104</span></div>
<div class="c n r" style="left:387.5px;top:826.03px;width:36.15px"><span>752</span></div>
<div class="c n r" style="left:423.55px;top:826.03px;width:25.45px"><span>1.9</span></div>
<div class="c t r" style="left:448.8px;top:825.03px;width:10.7px">倍</div>
<div class="c n r" style="left:459.9px;top:826.03px;width:46.75px"><span>390</span></div>
<div class="c n r" style="left:506.55px;top:826.03px;width:36.15px"><span>1,108</span></div>
<div class="c n r" style="left:542.6px;top:826.03px;width:25.5px"><span>2.8</span></div>
<div class="c t r" style="left:567.9px;top:825.03px;width:10.7px">倍</div>
<div class="c t r sp" style="left:61px;top:839.03px;width:243.5px">合<u> </u>計</div>
<div class="c n r" style="left:304.5px;top:839.03px;width:46.65px"><span>2,874</span></div>
<div class="c n r" style="left:351.05px;top:839.03px;width:36.55px"><span>921</span></div>
<div class="c n r" style="left:387.5px;top:839.03px;width:36.15px"><span>6,252</span></div>
<div class="c n r" style="left:423.55px;top:839.03px;width:25.45px"><span>2.2</span></div>
<div class="c t r" style="left:448.8px;top:839.03px;width:10.7px">倍</div>
<div class="c n r" style="left:459.9px;top:839.03px;width:46.75px"><span>2,878</span></div>
<div class="c n r" style="left:506.55px;top:839.03px;width:36.15px"><span>7,398</span></div>
<div class="c n r" style="left:542.6px;top:839.03px;width:25.5px"><span>2.6</span></div>
<div class="c t r" style="left:567.9px;top:839.03px;width:10.7px">倍</div>
<svg class="ln" width="640" height="905" viewBox="0 0 640 905"><path d="M60.4 58.8H579.6M459.3 71.6H579.6M60.4 85.35H579.6M60.4 851.15H579.6M60.4 98.79H579.6M60.4 112.23H579.6M184.85 125.67H579.6M184.85 139.11H579.6M184.85 152.55H579.6M184.85 165.99H579.6M184.85 179.43H579.6M184.85 192.87H579.6M184.85 206.31H579.6M184.85 219.75H579.6M184.85 233.19H579.6M184.85 246.63H579.6M184.85 260.07H579.6M184.85 273.51H579.6M184.85 286.95H579.6M184.85 300.39H579.6M184.85 313.83H579.6M184.85 327.27H579.6M184.85 340.71H579.6M184.85 354.15H579.6M184.85 367.59H579.6M184.85 381.03H579.6M184.85 394.47H579.6M184.85 407.91H579.6M184.85 421.35H579.6M184.85 434.79H579.6M143.4 448.23H579.6M60.4 461.67H579.6M143.4 475.11H579.6M143.4 488.55H579.6M60.4 501.99H579.6M60.4 515.43H579.6M143.4 528.87H579.6M143.4 542.31H579.6M143.4 555.75H579.6M143.4 569.19H579.6M143.4 582.63H579.6M60.4 596.07H579.6M143.4 609.51H579.6M184.85 622.95H579.6M184.85 636.39H579.6M143.4 649.83H579.6M60.4 663.27H579.6M60.4 676.71H579.6M60.4 690.15H579.6M143.4 703.59H579.6M143.4 717.03H579.6M143.4 730.47H579.6M143.4 743.91H579.6M143.4 757.35H579.6M60.4 770.79H579.6M143.4 784.23H579.6M143.4 797.67H579.6M143.4 811.11H579.6M143.4 824.55H579.6M60.4 837.99H579.6M61 58.8V851.15M579 58.8V851.15M144 58.8V837.99M304.5 58.8V851.15M351.05 58.8V851.15M387.5 58.8V851.15M423.55 58.8V851.15M459.9 58.8V851.15M506.55 71.6V851.15M542.6 71.6V851.15M185.45 112.23V448.23M185.45 609.51V649.83" fill="none" stroke="#141414" stroke-width="1.25"/></svg>
<div class="note" style="top:852px">注１：理学部、工学部、基礎工学部は、第１志望学科の志願者数です。</div>
<div class="note" style="top:865.4px">注２：複数の募集単位（学科・専攻）のある学部には、小計を設けています。</div>
</div></body></html>
